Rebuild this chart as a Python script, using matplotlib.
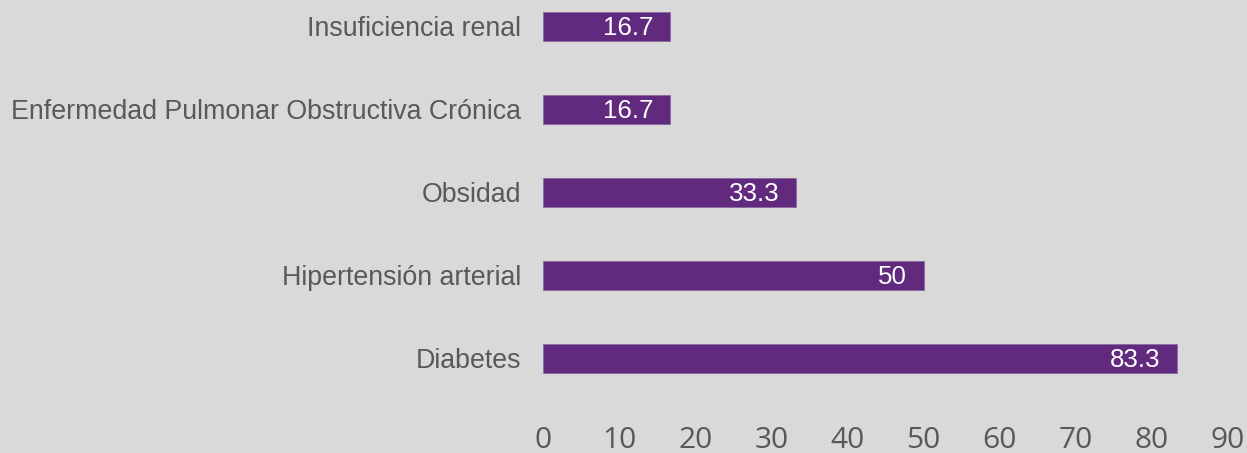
import matplotlib
matplotlib.use("Agg")
import matplotlib.pyplot as plt

categories = ["Diabetes", "Hipertensión arterial", "Obsidad",
              "Enfermedad Pulmonar Obstructiva Crónica", "Insuficiencia renal"]
values = [83.3, 50, 33.3, 16.7, 16.7]
value_labels = ["83.3", "50", "33.3", "16.7", "16.7"]
xticks = [0, 10, 20, 30, 40, 50, 60, 70, 80, 90]

W, H = 1247, 453
fig = plt.figure(figsize=(W / 100, H / 100), dpi=100)
bg = "#d9d9d9"
fig.patch.set_facecolor(bg)

left_px, right_px = 543, 1228
top_px, bottom_px = 0, 400
ax = fig.add_axes([left_px / W, 1 - bottom_px / H, (right_px - left_px) / W, (bottom_px - top_px) / H])
ax.set_facecolor(bg)

spacing = 82.9
ypos = list(range(len(categories)))
ax.barh(ypos, values, height=0.35, color="#612a7f", edgecolor="#8a6aa0", linewidth=0.6)
ax.set_xlim(0, 90)
ax.set_ylim(-(bottom_px - 358) / spacing, 4 + 26.5 / spacing)

for y, v, lab in zip(ypos, values, value_labels):
    ax.annotate(lab, xy=(v, y), xytext=(-17, -1.5), textcoords="offset pixels",
                ha="right", va="center", color="white", fontsize=18.6,
                family="Liberation Sans")

ax.set_yticks(ypos)
ax.set_yticklabels(categories, fontsize=19.3, color="#595959", family="Liberation Sans")
ax.set_xticks(xticks)
ax.set_xticklabels([str(t) for t in xticks], fontsize=21.5, color="#595959", family="Open Sans")
ax.tick_params(axis="y", length=0, pad=16)
ax.tick_params(axis="x", length=0, pad=18.6)
for s in ax.spines.values():
    s.set_visible(False)

fig.savefig("out.png", dpi=100, facecolor=bg)
